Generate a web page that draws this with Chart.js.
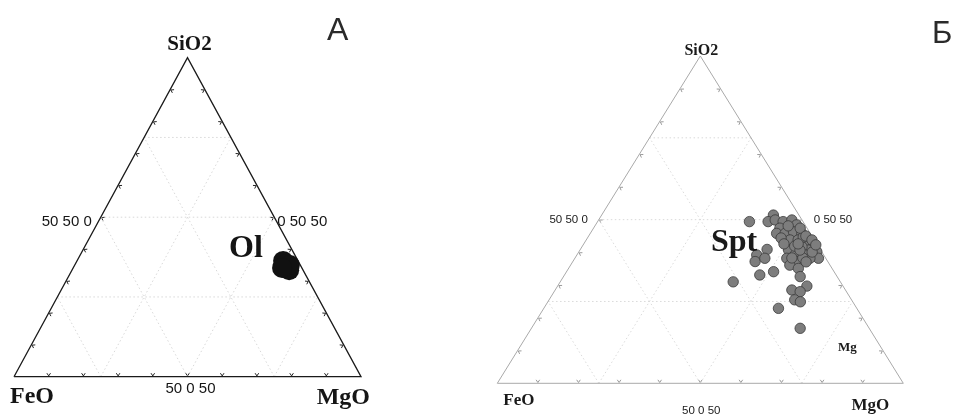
<!DOCTYPE html>
<html><head><meta charset="utf-8">
<script src="https://cdn.jsdelivr.net/npm/chart.js@4/dist/chart.umd.min.js"></script>
<style>
html,body{margin:0;padding:0;background:#fff;width:958px;height:415px;overflow:hidden}
canvas{position:absolute;top:0}
#chartA{left:0}
#chartB{left:479px}
</style></head><body>
<canvas id="chartA" width="479" height="415"></canvas>
<canvas id="chartB" width="479" height="415"></canvas>
<script>
// Corner components of the ternary diagram: top, bottom-left, bottom-right
const components = ['SiO2', 'FeO', 'MgO'];
// Edge mid-point labels: left edge, right edge, base
const midLabels = ['50 50 0', '0 50 50', '50 0 50'];
// Grid lines (%) and edge ticks (%)
const gridLevels = [25, 50, 75];
const tickLevels = [10, 20, 30, 40, 50, 60, 70, 80, 90];

// Olivine (Ol) analyses, %
const olSiO2 = [36.3, 33.4, 35.3, 35.0, 34.1];
const olMgO  = [59.4, 62.6, 60.8, 62.0, 60.2];
const olFeO  = [4.3, 4.0, 3.9, 3.0, 5.7];

// Serpentine (Spt) analyses, %
const sptSiO2 = [49.4, 51.4, 49.4, 49.9, 49.4, 49.9, 48.4, 47.4, 45.8, 45.8, 46.3, 45.8, 43.8, 43.8, 43.8, 42.8, 41.7, 40.7, 41.7, 40.2, 38.2, 40.7, 38.2, 39.2, 37.2, 39.2, 38.2, 36.1, 35.1, 32.6, 40.9, 39.2, 37.2, 38.2, 33.1, 34.1, 28.5, 29.7, 28.0, 25.5, 24.9, 22.9, 16.8, 31.0, 44.7, 41.9, 40.1, 38.3, 44.4, 48.1, 47.4, 45.0, 43.8, 42.3, 40.7, 37.1, 38.3, 42.6, 42.6];
const sptMgO  = [37.4, 42.3, 42.0, 43.5, 45.7, 47.6, 49.5, 45.9, 45.9, 48.0, 49.8, 52.1, 50.2, 52.2, 53.9, 55.6, 57.0, 56.3, 54.2, 58.6, 60.0, 51.4, 52.2, 53.7, 55.5, 56.2, 57.9, 54.0, 56.6, 58.3, 46.0, 44.3, 44.9, 46.8, 48.1, 51.0, 58.3, 61.4, 60.6, 60.5, 62.2, 57.8, 66.2, 42.6, 53.0, 52.3, 57.5, 56.1, 47.7, 47.6, 50.9, 53.5, 55.6, 57.3, 54.2, 57.5, 53.4, 49.3, 52.8];
const sptFeO  = [13.2, 6.3, 8.6, 6.6, 4.9, 2.5, 2.1, 6.7, 8.3, 6.2, 3.9, 2.1, 6.0, 4.0, 2.3, 1.6, 1.3, 3.0, 4.1, 1.2, 1.8, 7.9, 9.6, 7.1, 7.3, 4.6, 3.9, 9.9, 8.3, 9.1, 13.1, 16.5, 17.9, 15.0, 18.8, 14.9, 13.2, 8.9, 11.4, 14.0, 12.9, 19.3, 17.0, 26.4, 2.3, 5.8, 2.4, 5.6, 7.9, 4.3, 1.7, 1.5, 0.6, 0.4, 5.1, 5.4, 8.3, 8.1, 4.6];

// Ternary (SiO2, MgO) -> cartesian data space: FeO corner (0,0), MgO corner (1,0), SiO2 corner (0.5,1)
function toXY(si, mg) { return { x: (mg + si / 2) / 100, y: si / 100 }; }
function seriesXY(si, mg) { return si.map((s, i) => toXY(s, mg[i])); }

function lineSeg(a, b, style) {
  return Object.assign({ type: 'line', data: [a, b], pointRadius: 0, fill: false, clip: false, tension: 0, order: 10 }, style);
}

function frameDatasets(edgeColor, edgeWidth, gridColor) {
  const sets = [];
  const grid = { borderColor: gridColor, borderWidth: 1, borderDash: [1.5, 2.5] };
  gridLevels.forEach(k => {
    // constant SiO2
    sets.push(lineSeg(toXY(k, 0), toXY(k, 100 - k), grid));
    // constant MgO
    sets.push(lineSeg(toXY(0, k), toXY(100 - k, k), grid));
    // constant FeO
    sets.push(lineSeg(toXY(0, 100 - k), toXY(100 - k, 0), grid));
  });
  sets.push({ type: 'line', data: [toXY(0, 0), toXY(0, 100), toXY(100, 0), toXY(0, 0)],
    borderColor: edgeColor, borderWidth: edgeWidth, pointRadius: 0, fill: false, clip: false, tension: 0, order: 5 });
  return sets;
}

const ternaryDecor = {
  id: 'ternaryDecor',
  beforeDatasetsDraw(chart, args, o) {
    const ctx = chart.ctx, sx = chart.scales.x, sy = chart.scales.y;
    const P = (d) => ({ x: sx.getPixelForValue(d.x), y: sy.getPixelForValue(d.y) });
    const corners = [P(toXY(100, 0)), P(toXY(0, 0)), P(toXY(0, 100))]; // top, FeO, MgO
    const cx = (corners[0].x + corners[1].x + corners[2].x) / 3;
    const cy = (corners[0].y + corners[1].y + corners[2].y) / 3;
    const edges = [[1, 0], [0, 2], [1, 2]];
    ctx.save();
    ctx.strokeStyle = o.tickColor;
    ctx.lineWidth = 1;
    edges.forEach(([a, b]) => {
      const A = corners[a], B = corners[b];
      const len = Math.hypot(B.x - A.x, B.y - A.y);
      const d = { x: (B.x - A.x) / len, y: (B.y - A.y) / len };
      let n = { x: -d.y, y: d.x };
      const mx = (A.x + B.x) / 2, my = (A.y + B.y) / 2;
      if ((cx - mx) * n.x + (cy - my) * n.y < 0) n = { x: -n.x, y: -n.y };
      tickLevels.forEach(t => {
        const p = { x: A.x + (B.x - A.x) * t / 100, y: A.y + (B.y - A.y) * t / 100 };
        ctx.beginPath();
        ctx.moveTo(p.x + n.x * 3.5 - d.x * 1.8, p.y + n.y * 3.5 - d.y * 1.8);
        ctx.lineTo(p.x + n.x * 0.8, p.y + n.y * 0.8);
        ctx.lineTo(p.x + n.x * 3.5 + d.x * 1.8, p.y + n.y * 3.5 + d.y * 1.8);
        ctx.stroke();
      });
    });
    ctx.restore();
  },
  afterDatasetsDraw(chart, args, o) {
    const ctx = chart.ctx, sx = chart.scales.x, sy = chart.scales.y;
    const P = (d) => ({ x: sx.getPixelForValue(d.x), y: sy.getPixelForValue(d.y) });
    const corner = [P(toXY(100, 0)), P(toXY(0, 0)), P(toXY(0, 100))];
    const mids = [P(toXY(50, 0)), P(toXY(50, 50)), P(toXY(0, 50))];
    ctx.save();
    ctx.fillStyle = o.textColor;
    ctx.textBaseline = 'alphabetic';
    components.forEach((c, i) => {
      const s = o.corner[i];
      ctx.font = 'bold ' + s.size + 'px "Liberation Serif", "DejaVu Serif", serif';
      ctx.textAlign = s.align;
      ctx.fillText(c, corner[i].x + s.dx, corner[i].y + s.dy);
    });
    midLabels.forEach((m, i) => {
      const s = o.mid[i];
      ctx.font = s.size + 'px "Liberation Sans", Arial, sans-serif';
      ctx.textAlign = s.align;
      ctx.fillText(m, mids[i].x + s.dx, mids[i].y + s.dy);
    });
    o.notes.forEach(nt => {
      const p = P(nt.at);
      ctx.font = 'bold ' + nt.size + 'px "Liberation Serif", "DejaVu Serif", serif';
      ctx.textAlign = 'left';
      ctx.fillText(nt.text, p.x, p.y);
    });
    ctx.font = o.panel.size + 'px "Liberation Sans", Arial, sans-serif';
    ctx.fillStyle = '#2a2a2a';
    ctx.textAlign = 'left';
    ctx.fillText(o.panel.text, o.panel.x, o.panel.y);
    ctx.restore();
  }
};

function makeChart(id, cfg) {
  return new Chart(document.getElementById(id), {
    type: 'scatter',
    data: { datasets: frameDatasets(cfg.edgeColor, cfg.edgeWidth, cfg.gridColor).concat([cfg.points]) },
    options: {
      responsive: false,
      animation: false,
      devicePixelRatio: 1,
      layout: { padding: cfg.padding },
      scales: {
        x: { type: 'linear', min: 0, max: 1, display: false },
        y: { type: 'linear', min: 0, max: 1, display: false }
      },
      plugins: { legend: { display: false }, tooltip: { enabled: false }, ternaryDecor: cfg.decor }
    },
    plugins: [ternaryDecor]
  });
}

makeChart('chartA', {
  edgeColor: '#1a1a1a', edgeWidth: 1.3, gridColor: '#d8d8d8',
  padding: { left: 14, right: 118, top: 57.7, bottom: 38.3 },
  points: {
    type: 'scatter', data: seriesXY(olSiO2, olMgO), clip: false, order: 0,
    pointRadius: 10, backgroundColor: '#111', borderColor: '#111', borderWidth: 0
  },
  decor: {
    tickColor: '#222', textColor: '#151515',
    corner: [
      { size: 21, align: 'center', dx: 2, dy: -8 },
      { size: 24, align: 'left', dx: -4, dy: 26 },
      { size: 24, align: 'right', dx: 9, dy: 27 }
    ],
    mid: [
      { size: 15, align: 'right', dx: -9, dy: 9 },
      { size: 15, align: 'left', dx: 3, dy: 9 },
      { size: 15, align: 'center', dx: 3, dy: 16 }
    ],
    notes: [{ text: 'Ol', size: 32, at: { x: 0.6196, y: 0.375 } }],
    panel: { text: 'A', size: 32, x: 327, y: 40 }
  }
});

makeChart('chartB', {
  edgeColor: '#a9a9a9', edgeWidth: 1, gridColor: '#dadada',
  padding: { left: 18.3, right: 54.7, top: 56, bottom: 31.7 },
  points: {
    type: 'scatter', data: seriesXY(sptSiO2, sptMgO), clip: false, order: 0,
    pointRadius: 5.2, backgroundColor: '#7d7d7d', borderColor: '#3a3a3a', borderWidth: 0.8
  },
  decor: {
    tickColor: '#9a9a9a', textColor: '#1a1a1a',
    corner: [
      { size: 16, align: 'center', dx: 1, dy: -1 },
      { size: 17, align: 'left', dx: 6, dy: 22 },
      { size: 17, align: 'right', dx: -14, dy: 27 }
    ],
    mid: [
      { size: 11.5, align: 'right', dx: -11, dy: 3 },
      { size: 11.5, align: 'left', dx: 12, dy: 3 },
      { size: 11.5, align: 'center', dx: 1, dy: 31 }
    ],
    notes: [
      { text: 'Spt', size: 32, at: { x: 0.5264, y: 0.4042 } },
      { text: 'Mg', size: 13, at: { x: 0.8392, y: 0.0987 } }
    ],
    panel: { text: 'Б', size: 31, x: 453, y: 43 }
  }
});
</script>
</body></html>
